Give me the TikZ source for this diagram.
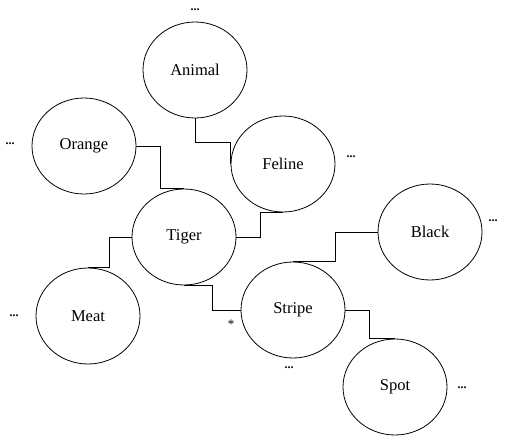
\documentclass[tikz,border=0pt]{standalone}
\usepackage{fontspec}
\setmainfont{Liberation Serif}
\usetikzlibrary{shapes.geometric}

\begin{document}
\begin{tikzpicture}[x=1pt,y=-1pt,
  concept/.style={draw,ellipse,line width=0.8pt,minimum width=104pt,minimum height=96pt,
                  inner sep=0pt,font=\rmfamily\fontsize{16.5}{18}\selectfont},
  link/.style={line width=0.9pt},
  more/.style={font=\rmfamily\fontsize{12}{12}\selectfont\bfseries,inner sep=0pt}
]
\useasboundingbox (0,0) rectangle (509,444);
\node[concept] (animal) at (195,70) {Animal};
\node[concept] (feline) at (283,164) {Feline};
\node[concept] (orange) at (84,146) {Orange};
\node[concept] (tiger) at (184,237) {Tiger};
\node[concept] (meat) at (88,316) {Meat};
\node[concept] (stripe) at (293,310) {Stripe};
\node[concept] (black) at (430,232) {Black};
\node[concept] (spot) at (395,387) {Spot};
\draw[link] (animal.south) -- ++(0,24) -| (feline.west);
\draw[link] (orange.east) -- ++(24,0) |- (tiger.north);
\draw[link] (tiger.east) -- ++(24,0) |- (feline.south);
\draw[link] (tiger.west) -- ++(-22,0) |- (meat.north);
\draw[link] (tiger.south) -- ++(28,0) |- (stripe.west);
\draw[link] (stripe.north) -- ++(42,0) |- (black.west);
\draw[link] (stripe.east) -- ++(24,0) |- (spot.north);
\node[more] (animalmore) at (195,10) {...};
\node[more] (felinemore) at (351,157) {...};
\node[more] (orangemore) at (10,144) {...};
\node[more] (meatmore) at (14,316) {...};
\node[more] (blackmore) at (493,221) {...};
\node[more] (stripemore) at (289,368) {...};
\node[more] (spotmore) at (462,388) {...};
\node[font=\rmfamily\fontsize{13}{13}\selectfont,inner sep=0pt] (star) at (231,324) {*};
\end{tikzpicture}
\end{document}
